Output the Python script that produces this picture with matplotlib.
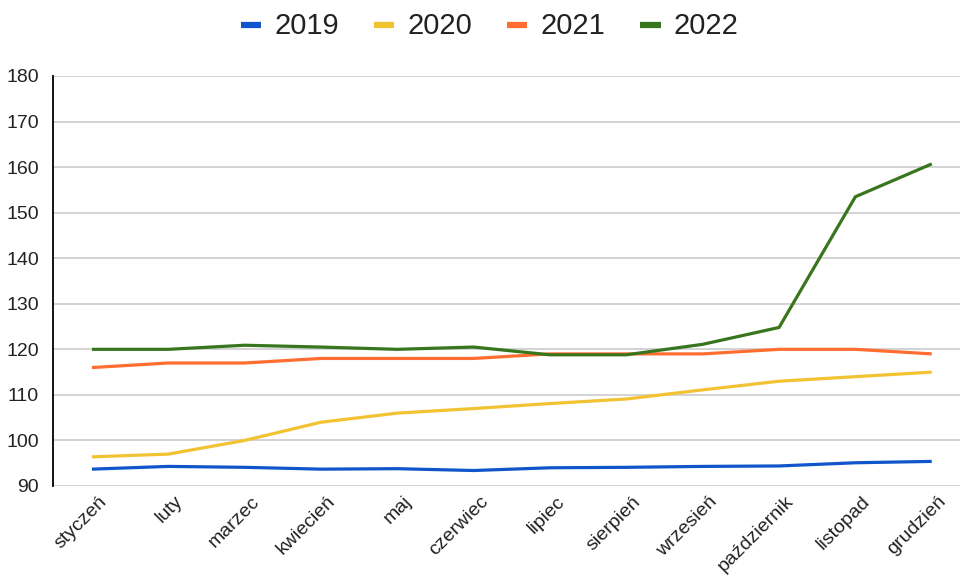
import matplotlib.pyplot as plt
import matplotlib.transforms as mtransforms
import numpy as np

plt.rcParams['font.family'] = ['Liberation Sans', 'DejaVu Sans']

months = ["styczeń", "luty", "marzec", "kwiecień", "maj", "czerwiec",
          "lipiec", "sierpień", "wrzesień", "październik", "listopad", "grudzień"]

y2019 = [93.7, 94.3, 94.1, 93.7, 93.8, 93.4, 94.0, 94.1, 94.3, 94.4, 95.1, 95.4]
y2020 = [96.4, 97.0, 100.0, 104.0, 106.0, 107.0, 108.1, 109.1, 111.1, 113.0, 114.0, 115.0]
y2021 = [116.0, 117.0, 117.0, 118.0, 118.0, 118.0, 119.0, 119.0, 119.0, 120.0, 120.0, 119.0]
y2022 = [120.0, 120.0, 120.9, 120.5, 120.0, 120.5, 118.8, 118.8, 121.1, 124.8, 153.5, 160.7]

series = {"2019": (y2019, "#1155cc"), "2020": (y2020, "#f1c232"),
          "2021": (y2021, "#ff6d31"), "2022": (y2022, "#38761d")}

fig = plt.figure(figsize=(9.6, 5.83), dpi=100)
ax = fig.add_axes([53 / 960, 1 - 486 / 583, (960 - 53) / 960, (486 - 76) / 583])

x = np.arange(len(months))
for name, (vals, col) in series.items():
    ax.plot(x, vals, color=col, lw=2.3, label=name, solid_capstyle='butt')

ax.set_ylim(90, 180)
ax.set_yticks(range(90, 181, 10))
ax.set_xlim(-0.51, 11.37)
ax.set_xticks(x)
ax.set_xticklabels(months, rotation=45, ha='right', rotation_mode='anchor', fontsize=14)
ax.tick_params(axis='y', length=0, labelsize=14, pad=10, labelcolor='#222222')
ax.tick_params(axis='x', length=0, pad=5, labelcolor='#222222')
# shift month labels a little to the right, like the original
shift = mtransforms.ScaledTranslation(6 / 100, 0, fig.dpi_scale_trans)
for lbl in ax.get_xticklabels():
    lbl.set_transform(lbl.get_transform() + shift)
ax.grid(axis='y', color='#cccccc', lw=1.2)
ax.set_axisbelow(True)
for s in ['top', 'right', 'bottom']:
    ax.spines[s].set_visible(False)
ax.spines['left'].set_color('black')
ax.spines['left'].set_linewidth(1.3)

fig.legend(loc='center', bbox_to_anchor=(0.51, 1 - 26 / 583), ncol=4, frameon=False,
           fontsize=21, handlelength=0.7, handletextpad=0.45, columnspacing=1.2,
           handleheight=0.5, labelcolor='#222222')
for h in fig.legends[0].get_lines():
    h.set_linewidth(4.5)

fig.savefig("out.png", dpi=100)
